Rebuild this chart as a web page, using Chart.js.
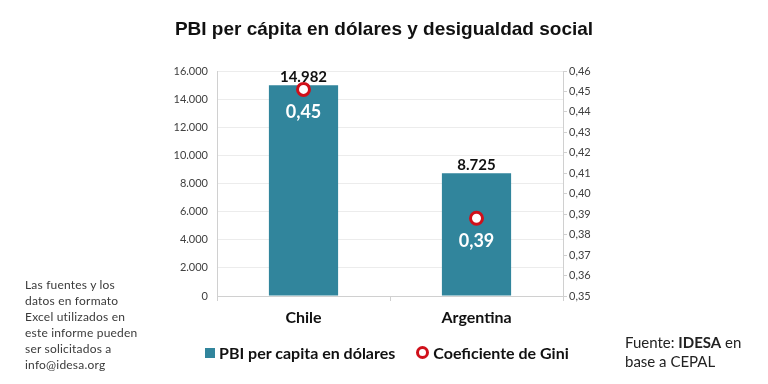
<!DOCTYPE html>
<html>
<head>
<meta charset="utf-8">
<script src="https://cdn.jsdelivr.net/npm/chart.js@4"></script>
<style>
  body { margin: 0; background: #fff; }
  #wrap { position: relative; width: 768px; height: 384px; overflow: hidden; }
  #c { position: absolute; left: 0; top: 0; }
  .title { position: absolute; left: 0; width: 768px; top: 18px; text-align: center;
           font: bold 19px "Liberation Sans", Arial, sans-serif; color: #111; }
  .note { position: absolute; left: 25px; top: 277px; font: 12px Lato, sans-serif;
          color: #3a3a3a; line-height: 16px; letter-spacing: 0.2px; }
  .src { position: absolute; left: 625px; top: 333px; font: 15px Lato, sans-serif;
         color: #222; line-height: 19px; }
  .legend { position: absolute; top: 341px; left: 205px; font: bold 16px Lato, sans-serif;
            color: #111; white-space: nowrap; }
  .legend span { display: inline-block; vertical-align: middle; }
  .sq { width: 10px; height: 10px; background: #31859C; margin-right: 4px; }
  .ring { width: 7px; height: 7px; border: 3px solid #D0101A; border-radius: 50%;
          margin-left: 21px; margin-right: 4px; }
</style>
</head>
<body>
<div id="wrap">
  <canvas id="c" width="768" height="384"></canvas>
  <div class="title">PBI per cápita en dólares y desigualdad social</div>
  <div class="legend"><span class="sq"></span><span>PBI per capita en dólares</span><span class="ring"></span><span>Coeficiente de Gini</span></div>
  <div class="note">Las fuentes y los<br>datos en formato<br>Excel utilizados en<br>este informe pueden<br>ser solicitados a<br>info@idesa.org</div>
  <div class="src">Fuente: <b>IDESA</b> en<br>base a CEPAL</div>
</div>
<script>
// data
const countries = ['Chile', 'Argentina'];
const pbi = [14982, 8725];
const gini = [0.451, 0.388];
const pbiTicks = [0, 2000, 4000, 6000, 8000, 10000, 12000, 14000, 16000];
const giniTicks = [0.35, 0.36, 0.37, 0.38, 0.39, 0.40, 0.41, 0.42, 0.43, 0.44, 0.45, 0.46];

function miles(v)
{
    return String(Math.round(v)).replace(/\B(?=(\d{3})+(?!\d))/g, '.');
}

function coma(v)
{
    return v.toFixed(2).replace('.', ',');
}

// labels over the bars and under the gini markers
const labelsPlugin =
{
    id: 'labels',
    afterDatasetsDraw(chart)
    {
        const ctx = chart.ctx;
        ctx.save();
        ctx.textAlign = 'center';
        const bars = chart.getDatasetMeta(0).data;
        bars.forEach((b, i) =>
        {
            ctx.font = 'bold 15px Lato, sans-serif';
            ctx.fillStyle = '#111';
            ctx.textBaseline = 'bottom';
            ctx.fillText(miles(pbi[i]), b.x, b.y - 1);
        });
        const pts = chart.getDatasetMeta(1).data;
        pts.forEach((p, i) =>
        {
            ctx.font = 'bold 18px Lato, sans-serif';
            ctx.fillStyle = '#fff';
            ctx.textBaseline = 'middle';
            ctx.fillText(coma(gini[i]), p.x, p.y + 23);
        });
        ctx.restore();
    }
};

new Chart(document.getElementById('c'),
{
    data:
    {
        labels: countries,
        datasets:
        [
            {
                type: 'bar',
                label: 'PBI per capita en dólares',
                data: pbi,
                backgroundColor: '#31859C',
                categoryPercentage: 1,
                barPercentage: 0.4,
                yAxisID: 'y',
                order: 2
            },
            {
                type: 'line',
                label: 'Coeficiente de Gini',
                data: gini,
                showLine: false,
                pointRadius: 6,
                pointBorderWidth: 3,
                pointBorderColor: '#D0101A',
                pointBackgroundColor: '#fff',
                yAxisID: 'y1',
                order: 1
            }
        ]
    },
    options:
    {
        responsive: false,
        animation: false,
        layout: { padding: { left: 155, right: 155, top: 71, bottom: 58 } },
        plugins: { legend: { display: false }, tooltip: { enabled: false } },
        scales:
        {
            x:
            {
                offset: true,
                grid: { offset: true, drawOnChartArea: false, tickLength: 5, color: '#d0d0d0' },
                border: { color: '#d0d0d0' },
                ticks: { color: '#111', font: { family: 'Lato', size: 16, weight: 'bold' }, padding: 7 },
                afterFit(s) { s.height = 30; }
            },
            y:
            {
                position: 'left',
                min: 0,
                max: 16000,
                afterBuildTicks(s) { s.ticks = pbiTicks.map(v => ({ value: v })); },
                grid: { color: '#ececec', drawTicks: false },
                border: { color: '#d0d0d0' },
                ticks: { color: '#404040', font: { family: 'Lato', size: 11 }, padding: 9, callback: v => miles(v) },
                afterFit(s) { s.width = 62; }
            },
            y1:
            {
                position: 'right',
                min: 0.35,
                max: 0.46,
                afterBuildTicks(s) { s.ticks = giniTicks.map(v => ({ value: v })); },
                grid: { drawOnChartArea: false, tickLength: 4, color: '#d0d0d0' },
                border: { color: '#d0d0d0' },
                ticks: { color: '#404040', font: { family: 'Lato', size: 11 }, padding: 2, callback: v => coma(v) },
                afterFit(s) { s.width = 50; }
            }
        }
    },
    plugins: [labelsPlugin]
});
</script>
</body>
</html>
